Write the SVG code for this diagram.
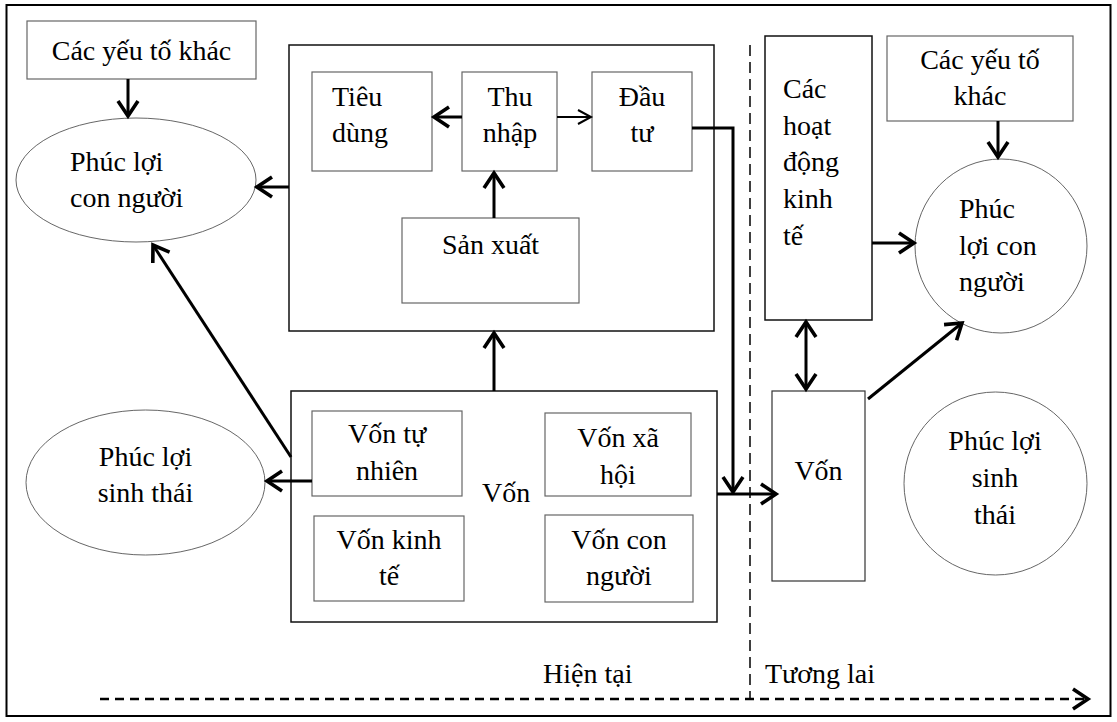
<svg xmlns="http://www.w3.org/2000/svg" width="1117" height="722" viewBox="0 0 1117 722">
<style>
text{font-family:"Liberation Serif","Times New Roman",serif;font-size:28px;fill:#000}
.c{text-anchor:middle}
.box{fill:#fff;stroke:#666;stroke-width:1.2}
.big{fill:#fff;stroke:#111;stroke-width:1.5}
.ell{fill:#fff;stroke:#555;stroke-width:0.9}
.th{fill:none;stroke:#000;stroke-width:3}
.tn{fill:none;stroke:#000;stroke-width:1.8}
.dash{fill:none;stroke:#000;stroke-width:2.5;stroke-dasharray:9 6}
.vdash{fill:none;stroke:#000;stroke-width:1.5;stroke-dasharray:11 6}
</style>
<defs>
<marker id="arr" markerUnits="userSpaceOnUse" markerWidth="24" markerHeight="26" refX="18" refY="12" orient="auto-start-reverse" overflow="visible">
<path d="M3,2 L18,12 L3,22" fill="none" stroke="#000" stroke-width="3.6"/>
</marker>
<marker id="arrThin" markerUnits="userSpaceOnUse" markerWidth="18" markerHeight="18" refX="15" refY="8" orient="auto" overflow="visible">
<path d="M2,1 L15,8 L2,15" fill="none" stroke="#000" stroke-width="2"/>
</marker>
</defs>
<rect x="0" y="0" width="1117" height="722" fill="#fff"/>
<rect x="6.5" y="5" width="1104" height="711" fill="none" stroke="#000" stroke-width="2"/>

<g id="time-axis">
<path class="vdash" d="M750,45 V699"/>
<path class="dash" d="M100,699 H1088" marker-end="url(#arr)"/>
<text x="543" y="683">Hiện tại</text>
<text x="765" y="683">Tương lai</text>
</g>

<g id="other-factors-left">
<rect class="box" x="27" y="21" width="229" height="58"/>
<text class="c" x="141.5" y="60">Các yếu tố khác</text>
</g>
<g id="human-wellbeing-left">
<ellipse class="ell" cx="136" cy="180" rx="120" ry="62"/>
<text x="70" y="171">Phúc lợi</text>
<text x="70" y="207">con người</text>
</g>
<g id="eco-wellbeing-left">
<ellipse class="ell" cx="145.5" cy="482.5" rx="119.5" ry="72.5"/>
<text class="c" x="145.5" y="466">Phúc lợi</text>
<text class="c" x="145.5" y="502">sinh thái</text>
</g>

<g id="economy">
<rect class="big" x="289" y="45" width="425" height="286"/>
</g>
<g id="consumption">
<rect class="box" x="312" y="72" width="120" height="99"/>
<text x="332" y="106">Tiêu</text>
<text x="332" y="142">dùng</text>
</g>
<g id="income">
<rect class="box" x="462" y="72" width="95" height="99"/>
<text class="c" x="510" y="106">Thu</text>
<text class="c" x="510" y="142">nhập</text>
</g>
<g id="investment">
<rect class="box" x="592" y="72" width="100" height="99"/>
<text class="c" x="642" y="106">Đầu</text>
<text class="c" x="642" y="142">tư</text>
</g>
<g id="production">
<rect class="box" x="402" y="218" width="177" height="85"/>
<text class="c" x="490.5" y="254">Sản xuất</text>
</g>

<g id="capital">
<rect class="big" x="291" y="391" width="426" height="231"/>
<text x="482" y="502">Vốn</text>
</g>
<g id="natural-capital">
<rect class="box" x="312" y="411" width="150" height="85"/>
<text class="c" x="387" y="443">Vốn tự</text>
<text class="c" x="387" y="480">nhiên</text>
</g>
<g id="economic-capital">
<rect class="box" x="314" y="516" width="150" height="85"/>
<text class="c" x="389" y="549">Vốn kinh</text>
<text class="c" x="389" y="585">tế</text>
</g>
<g id="social-capital">
<rect class="box" x="545" y="413" width="146" height="83"/>
<text class="c" x="618" y="447">Vốn xã</text>
<text class="c" x="618" y="484">hội</text>
</g>
<g id="human-capital">
<rect class="box" x="545" y="515" width="148" height="87"/>
<text class="c" x="619" y="549">Vốn con</text>
<text class="c" x="619" y="585">người</text>
</g>

<g id="economic-activities">
<rect class="big" x="765" y="36" width="107" height="284"/>
<text x="783" y="98">Các</text>
<text x="783" y="135">hoạt</text>
<text x="783" y="171">động</text>
<text x="783" y="208">kinh</text>
<text x="783" y="245">tế</text>
</g>
<g id="other-factors-right">
<rect class="box" x="887" y="36" width="186" height="85"/>
<text class="c" x="980" y="69">Các yếu tố</text>
<text class="c" x="980" y="105">khác</text>
</g>
<g id="human-wellbeing-right">
<ellipse class="ell" cx="1001" cy="246" rx="86" ry="87"/>
<text x="959" y="218">Phúc</text>
<text x="959" y="255">lợi con</text>
<text x="959" y="291">người</text>
</g>
<g id="future-capital">
<rect class="box" x="772" y="391" width="93" height="190" style="stroke:#333"/>
<text class="c" x="818.5" y="480">Vốn</text>
</g>
<g id="eco-wellbeing-right">
<ellipse class="ell" cx="995.5" cy="483.5" rx="91.5" ry="91.5"/>
<text class="c" x="995" y="450">Phúc lợi</text>
<text class="c" x="995" y="487">sinh</text>
<text class="c" x="995" y="524">thái</text>
</g>

<g id="connectors">
<path class="th" d="M128,79 V116" marker-end="url(#arr)"/>
<path class="th" d="M289,187 H257" marker-end="url(#arr)"/>
<path class="th" d="M462,117 H434" marker-end="url(#arr)"/>
<path class="tn" d="M557,117 H591" marker-end="url(#arrThin)"/>
<path class="th" d="M494,218 V173" marker-end="url(#arr)"/>
<path class="th" d="M692,128 H733 V492" marker-end="url(#arr)"/>
<path class="th" d="M494,391 V333" marker-end="url(#arr)"/>
<path class="th" d="M717,494 H776" marker-end="url(#arr)"/>
<path class="th" d="M312,481 H267" marker-end="url(#arr)"/>
<path class="th" d="M291,457 L153,245" marker-end="url(#arr)"/>
<path class="th" d="M872,243 H914" marker-end="url(#arr)"/>
<path class="th" d="M998,121 V157" marker-end="url(#arr)"/>
<path class="th" d="M806,322 V389" marker-start="url(#arr)" marker-end="url(#arr)"/>
<path class="th" d="M868,399 L962,323" marker-end="url(#arr)"/>
</g>
</svg>
